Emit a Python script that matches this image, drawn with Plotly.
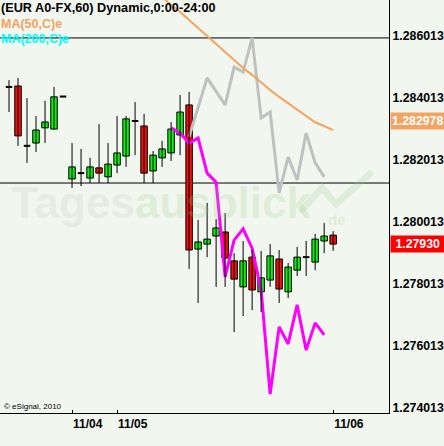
import plotly.graph_objects as go

# ---------------- data ----------------
bar_index = list(range(37))
opens = [1.28437, 1.28440, 1.28247, 1.28256, 1.28305, 1.28301, 1.28406, 1.28140, 1.28159, 1.28143,
         1.28176, 1.28147, 1.28185, 1.28214, 1.28327, 1.28311, 1.28166, 1.28208, 1.28224, 1.28282,
         1.28379, 1.27914, 1.27930, 1.27956, 1.27969, 1.27876, 1.27792, 1.27888, 1.27776, 1.27814,
         1.27882, 1.27776, 1.27846, 1.27888, 1.27872, 1.27940, 1.27959]
highs = [1.28459, 1.28466, 1.28401, 1.28343, 1.28392, 1.28437, 1.28408, 1.28256, 1.28237, 1.28208,
         1.28317, 1.28256, 1.28343, 1.28343, 1.28388, 1.28350, 1.28230, 1.28263, 1.28324, 1.28411,
         1.28421, 1.28008, 1.28063, 1.28011, 1.28030, 1.27901, 1.27940, 1.27911, 1.27908, 1.27930,
         1.27911, 1.27869, 1.27921, 1.27940, 1.27963, 1.27998, 1.27972]
lows = [1.28356, 1.28247, 1.28192, 1.28227, 1.28256, 1.28301, 1.28404, 1.28111, 1.28117, 1.28127,
        1.28127, 1.28127, 1.28159, 1.28179, 1.28217, 1.28127, 1.28127, 1.28179, 1.28198, 1.28217,
        1.27850, 1.27740, 1.27888, 1.27792, 1.27792, 1.27646, 1.27698, 1.27717, 1.27711, 1.27792,
        1.27740, 1.27756, 1.27827, 1.27827, 1.27846, 1.27901, 1.27908]
closes = [1.28437, 1.28279, 1.28247, 1.28298, 1.28324, 1.28405, 1.28406, 1.28179, 1.28159, 1.28179,
          1.28159, 1.28188, 1.28224, 1.28334, 1.28327, 1.28159, 1.28217, 1.28237, 1.28301, 1.28356,
          1.27911, 1.27937, 1.27946, 1.27982, 1.27885, 1.27817, 1.27876, 1.27782, 1.27821, 1.27892,
          1.27785, 1.27856, 1.27888, 1.27888, 1.27946, 1.27956, 1.27930]

ma50_index = list(range(16, 37))
ma50_values = [1.28753, 1.28727, 1.28701, 1.28679, 1.28653, 1.28627, 1.28601, 1.28576, 1.28550,
               1.28524, 1.28498, 1.28476, 1.28450, 1.28427, 1.28405, 1.28385, 1.28363, 1.28343,
               1.28323, 1.28311, 1.282978]

gray_index = [20, 22, 24, 25, 26, 27, 28, 29, 30, 31, 32, 33, 34, 35]
gray_values = [1.28276, 1.28466, 1.28379, 1.28501, 1.28485, 1.28595, 1.28337, 1.28356, 1.28095,
               1.28211, 1.28137, 1.28288, 1.28192, 1.28147]

magenta_index = list(range(18, 36))
magenta_values = [1.28305, 1.28288, 1.28256, 1.28272, 1.28159, 1.28130, 1.27824, 1.27943, 1.27979,
                  1.27917, 1.27782, 1.27446, 1.27663, 1.27608, 1.27734, 1.27588, 1.27676, 1.27637]

hlines = [1.28595, 1.28127]

ytick_vals = [1.274013, 1.276013, 1.278013, 1.280013, 1.282013, 1.284013, 1.286013]
ytick_text = ["1.274013", "1.276013", "1.278013", "1.280013", "1.282013", "1.284013", "1.286013"]
xtick_vals = [7, 12, 36]
xtick_text = ["11/04", "11/05", "11/06"]

last_price = 1.27930
ma50_last = 1.282978

# ---------------- style ----------------
BG = "#F1F6EF"
GREEN = "#11EE11"
RED = "#EE1111"
FONT = "Liberation Sans, Arial, sans-serif"
W, H = 444, 446
ML, MR, MT, MB = 0, 55, 0, 33
PH = H - MT - MB
PW = W - ML - MR
BODY_W = 0.72

def py(px):
    return 1 - px / PH

fig = go.Figure()

fig.add_trace(go.Scatter(x=gray_index, y=gray_values, mode="lines",
                         line=dict(color="#C0C0C0", width=3), hoverinfo="skip"))
fig.add_trace(go.Scatter(x=magenta_index, y=magenta_values, mode="lines",
                         line=dict(color="#FF00FF", width=3), hoverinfo="skip"))
fig.add_trace(go.Scatter(x=ma50_index, y=ma50_values, mode="lines",
                         line=dict(color="#F4A460", width=2), hoverinfo="skip"))

# candles: wicks, then bodies
wx, wy = [], []
for i, h, l in zip(bar_index, highs, lows):
    wx += [i, i, None]
    wy += [l, h, None]
fig.add_trace(go.Scatter(x=wx, y=wy, mode="lines", line=dict(color="black", width=1), hoverinfo="skip"))

up = [(i, o, c) for i, o, c in zip(bar_index, opens, closes) if c > o]
dn = [(i, o, c) for i, o, c in zip(bar_index, opens, closes) if c < o]
dj = [(i, o) for i, o, c in zip(bar_index, opens, closes) if c == o]

fig.add_trace(go.Bar(x=[u[0] for u in up], base=[u[1] for u in up], y=[u[2] - u[1] for u in up],
                     width=BODY_W, marker=dict(color=GREEN, line=dict(color="black", width=1)),
                     hoverinfo="skip"))
fig.add_trace(go.Bar(x=[d[0] for d in dn], base=[d[2] for d in dn], y=[d[1] - d[2] for d in dn],
                     width=BODY_W, marker=dict(color=RED, line=dict(color="black", width=1)),
                     hoverinfo="skip"))
dx, dy = [], []
for i, o in dj:
    dx += [i - BODY_W / 2, i + BODY_W / 2, None]
    dy += [o, o, None]
fig.add_trace(go.Scatter(x=dx, y=dy, mode="lines", line=dict(color="black", width=2), hoverinfo="skip"))

for v in hlines:
    fig.add_shape(type="line", xref="paper", x0=0, x1=1, yref="y", y0=v, y1=v,
                  line=dict(color="black", width=1), layer="below")

annotations = [
    dict(text="(EUR A0-FX,60) Dynamic,0:00-24:00", x=0, y=py(8.5), font=dict(color="black", size=12.7, weight="bold")),
    dict(text="MA(50,C)e", x=0, y=py(23.5), font=dict(color="#F4A460", size=12.5, weight="bold")),
    dict(text="MA(200,C)e", x=0, y=py(39), font=dict(color="#00FFFF", size=12.5, weight="bold")),
    dict(text="© eSignal, 2010", x=3 / PW, y=py(406), font=dict(color="black", size=8)),
    dict(text="<span style='color:rgba(185,190,185,0.2)'>Tages</span>"
              "<span style='color:rgba(150,205,130,0.22)'>ausblick</span>",
         x=10 / PW, y=py(202), font=dict(size=44, weight="bold")),
    dict(text="de", x=327 / PW, y=py(219), font=dict(size=15, weight="bold", color="rgba(150,205,130,0.22)")),
]
for a in annotations:
    fig.add_annotation(xref="paper", yref="paper", xanchor="left", yanchor="middle",
                       showarrow=False, borderpad=0, font_family=FONT, **a)

# right-hand value labels
fig.add_annotation(xref="paper", yref="y", x=1, y=ma50_last, yshift=9, xanchor="left", yanchor="middle",
                   xshift=1, text="1.282978", showarrow=False, bgcolor="#F4A460", borderpad=1,
                   font=dict(family=FONT, color="white", size=12.3, weight="bold"))
fig.add_annotation(xref="paper", yref="y", x=1, y=last_price, xanchor="left", yanchor="middle",
                   xshift=1, text=" 1.27930 ", showarrow=False, bgcolor="#FF0000", borderpad=1,
                   font=dict(family=FONT, color="white", size=12.3, weight="bold"))

# watermark arrow
fig.add_shape(type="path", xref="paper", yref="paper",
              path="M %f %f L %f %f L %f %f L %f %f" % (300 / PW, py(212), 322 / PW, py(188),
                                                         336 / PW, py(204), 372 / PW, py(172)),
              line=dict(color="rgba(150,205,130,0.2)", width=7))

fig.update_layout(
    width=W, height=H, margin=dict(l=ML, r=MR, t=MT, b=MB),
    paper_bgcolor=BG, plot_bgcolor=BG, showlegend=False, barmode="overlay",
    font=dict(family=FONT, color="black"),
    xaxis=dict(range=[-1, 42.2], tickvals=xtick_vals, ticktext=xtick_text,
               ticks="inside", ticklen=3, tickcolor="black",
               ticklabelposition="outside right",
               tickfont=dict(size=12, weight="bold", color="black"),
               showline=True, linecolor="black", linewidth=1,
               showgrid=False, zeroline=False, fixedrange=True),
    yaxis=dict(range=[1.273852, 1.287174], side="right", tickvals=ytick_vals, ticktext=ytick_text,
               ticks="", tickfont=dict(size=12.3, weight="bold", color="black"),
               showline=True, linecolor="black", linewidth=1,
               showgrid=False, zeroline=False, fixedrange=True),
)

fig.write_html("out.html", config={"displayModeBar": False},
               post_script="document.body.style.margin='0px';document.body.style.overflow='hidden';"
                           "document.body.style.background='%s';" % BG)
